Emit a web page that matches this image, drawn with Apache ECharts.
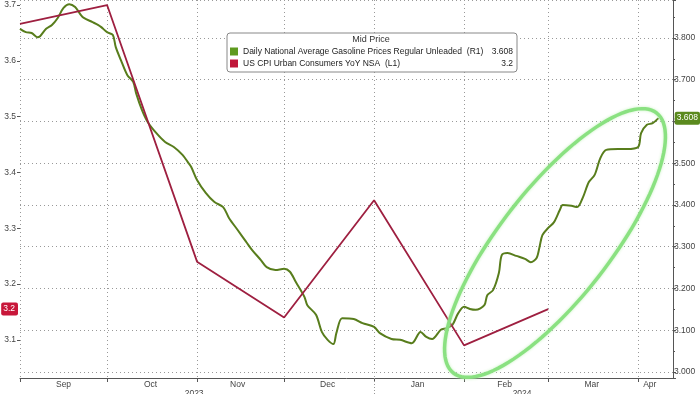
<!DOCTYPE html>
<html><head><meta charset="utf-8">
<script src="https://cdn.jsdelivr.net/npm/echarts@6/dist/echarts.min.js"></script>
<style>html,body{margin:0;padding:0;background:#fff}#c{width:700px;height:394px}</style>
</head><body><div id="c"></div>
<script>
// ---- axis categories / tick labels ----
const START_DATE = '2023-09-01';
const DAY_COUNT = 226;
const MONTH_LABEL_DATES = ['2023-09-16','2023-10-16','2023-11-15','2023-12-16','2024-01-16','2024-02-15','2024-03-16','2024-04-05'];
const MONTH_NAMES = ['Sep','Oct','Nov','Dec','Jan','Feb','Mar','Apr'];
const YEAR_LABEL_DATES = ['2023-10-31','2024-02-21'];
const YEAR_NAMES = ['2023','2024'];
const YEAR_SEPARATOR_DATES = ['2024-01-01'];

// ---- series ----
const GAS_NAME = 'Daily National Average Gasoline Prices Regular Unleaded';
const GAS_TAG = '(R1)';
const GAS_DATES = [
'2023-09-01','2023-09-03','2023-09-05','2023-09-07','2023-09-08','2023-09-10','2023-09-12','2023-09-14','2023-09-16','2023-09-18','2023-09-20','2023-09-22','2023-09-23','2023-09-26','2023-09-28','2023-09-29',
'2023-10-01','2023-10-03','2023-10-04','2023-10-06','2023-10-08','2023-10-10','2023-10-11','2023-10-13','2023-10-15','2023-10-18','2023-10-21','2023-10-24','2023-10-27','2023-10-29','2023-10-30',
'2023-11-01','2023-11-04','2023-11-07','2023-11-10','2023-11-12','2023-11-15','2023-11-18','2023-11-20','2023-11-23','2023-11-25','2023-11-28',
'2023-12-01','2023-12-03','2023-12-05','2023-12-08','2023-12-09','2023-12-12','2023-12-14','2023-12-16','2023-12-18','2023-12-19','2023-12-21','2023-12-25','2023-12-28',
'2024-01-01','2024-01-03','2024-01-07','2024-01-10','2024-01-14','2024-01-17','2024-01-19','2024-01-21','2024-01-24','2024-01-26','2024-01-28','2024-01-30',
'2024-02-01','2024-02-03','2024-02-05','2024-02-08','2024-02-09','2024-02-11','2024-02-13','2024-02-14','2024-02-16','2024-02-19','2024-02-22','2024-02-24','2024-02-26','2024-02-27','2024-02-28',
'2024-03-01','2024-03-03','2024-03-05','2024-03-06','2024-03-09','2024-03-11','2024-03-13','2024-03-15','2024-03-17','2024-03-19','2024-03-21','2024-03-25','2024-03-28',
'2024-04-01','2024-04-02','2024-04-04','2024-04-06','2024-04-08'
];
const GAS_VALUES = [
3.822,3.814,3.812,3.802,3.805,3.822,3.831,3.848,3.872,3.881,3.874,3.855,3.848,3.838,3.831,3.826,
3.814,3.807,3.778,3.743,3.711,3.695,3.668,3.628,3.599,3.572,3.551,3.539,3.520,3.501,3.491,
3.460,3.429,3.407,3.395,3.369,3.340,3.311,3.292,3.268,3.251,3.244,
3.247,3.240,3.216,3.180,3.160,3.137,3.096,3.077,3.067,3.093,3.129,3.127,3.117,
3.108,3.093,3.079,3.077,3.069,3.096,3.084,3.079,3.101,3.105,3.113,3.141,
3.156,3.151,3.149,3.160,3.184,3.196,3.237,3.280,3.285,3.278,3.271,3.263,3.273,3.299,3.328,
3.345,3.359,3.388,3.400,3.398,3.395,3.419,3.455,3.472,3.513,3.532,3.534,3.534,
3.539,3.572,3.592,3.596,3.608
];
const CPI_NAME = 'US CPI Urban Consumers YoY NSA';
const CPI_TAG = '(L1)';
const CPI_DATES = ['2023-09-01','2023-10-01','2023-11-01','2023-12-01','2024-01-01','2024-02-01','2024-03-01'];
const CPI_VALUES = [3.666,3.70,3.24,3.14,3.35,3.09,3.155];

const LEFT_RANGE = [3.0315, 3.709];
const RIGHT_RANGE = [2.9856, 3.891];

// build categories
const CATS = [];
{
  const d0 = new Date(START_DATE + 'T00:00:00Z');
  for (let i = 0; i < DAY_COUNT; i++) {
    const d = new Date(d0.getTime() + i * 86400000);
    CATS.push(d.toISOString().slice(0, 10));
  }
}
const FONT = 'Liberation Sans';
const GREEN = '#587d1c';
const RED = '#9e1f40';
const gasLast = GAS_VALUES[GAS_VALUES.length - 1];
const cpiLast = CPI_VALUES[CPI_VALUES.length - 1];
const legendVals = {};
legendVals[GAS_NAME] = [GAS_TAG, gasLast.toFixed(3)];
legendVals[CPI_NAME] = [CPI_TAG, cpiLast.toFixed(1)];

const isMonthStart = (i, v) => v.slice(8) === '01';

// annotation ellipse (hand-drawn highlight)
const ell = {cx: 555, cy: 243, a: 165, b: 55, ang: 52 * Math.PI / 180};
const ellPts = [];
for (let k = 0; k < 120; k++) {
  const t = k / 120 * Math.PI * 2;
  const ux = Math.cos(ell.ang), uy = -Math.sin(ell.ang);
  const vx = Math.sin(ell.ang), vy = Math.cos(ell.ang);
  ellPts.push([ell.cx + ell.a * Math.cos(t) * ux + ell.b * Math.sin(t) * vx,
               ell.cy + ell.a * Math.cos(t) * uy + ell.b * Math.sin(t) * vy]);
}

const chart = echarts.init(document.getElementById('c'), null, {renderer: 'canvas'});
chart.setOption({
  animation: false,
  backgroundColor: '#fff',
  textStyle: {fontFamily: FONT},
  grid: {left: 20, right: 27, top: 0, bottom: 16, containLabel: false, outerBoundsMode: 'none'},
  title: {
    text: 'Mid Price', left: 371, top: 35, textAlign: 'center', z: 10, padding: 0,
    textStyle: {fontFamily: FONT, fontSize: 9, fontWeight: 'normal', color: '#333'}
  },
  legend: {
    orient: 'vertical', left: 227, top: 33, z: 8,
    itemWidth: 8, itemHeight: 8, itemGap: 3, icon: 'rect',
    padding: [14, 4, 4, 3],
    backgroundColor: '#fff', borderColor: '#888', borderWidth: 1, borderRadius: 3,
    data: [GAS_NAME, CPI_NAME],
    formatter: name => `{n|${name}  ${legendVals[name][0]}}{v|${legendVals[name][1]}}`,
    textStyle: {
      fontFamily: FONT, fontSize: 8.5, color: '#222', lineHeight: 9,
      rich: {
        n: {fontFamily: FONT, fontSize: 8.5, color: '#222', width: 248, lineHeight: 9},
        v: {fontFamily: FONT, fontSize: 8.5, color: '#222', width: 22, align: 'right', lineHeight: 9}
      }
    }
  },
  xAxis: [{
    type: 'category', data: CATS, boundaryGap: false, position: 'bottom',
    axisLine: {lineStyle: {color: '#555', width: 1}},
    axisTick: {interval: isMonthStart, length: 4, lineStyle: {color: '#555'}},
    axisLabel: {
      interval: (i, v) => MONTH_LABEL_DATES.includes(v),
      formatter: v => MONTH_NAMES[MONTH_LABEL_DATES.indexOf(v)],
      fontFamily: FONT, fontSize: 8.5, color: '#444', margin: 2
    },
    splitLine: {show: true, interval: isMonthStart, lineStyle: {type: [1, 3], color: '#999'}}
  }, {
    type: 'category', data: CATS, boundaryGap: false, position: 'bottom', gridIndex: 0,
    axisLine: {show: false},
    axisTick: {show: true, interval: (i, v) => YEAR_SEPARATOR_DATES.includes(v), length: 16, lineStyle: {color: '#999', type: [1, 2]}},
    axisLabel: {
      interval: (i, v) => YEAR_LABEL_DATES.includes(v),
      formatter: v => YEAR_NAMES[YEAR_LABEL_DATES.indexOf(v)],
      fontFamily: FONT, fontSize: 8.5, color: '#444', margin: 11
    },
    splitLine: {show: false}
  }],
  yAxis: [{
    type: 'value', position: 'left', min: LEFT_RANGE[0], max: LEFT_RANGE[1], splitNumber: 7,
    axisLine: {show: false},
    axisTick: {show: true, length: 3, lineStyle: {color: '#555'}},
    axisLabel: {formatter: v => v.toFixed(1), fontFamily: FONT, fontSize: 8.5, color: '#444', margin: 4,
      showMinLabel: false, showMaxLabel: false},
    splitLine: {show: false},
    axisPointer: {
      show: true, status: 'show', value: cpiLast, snap: false, triggerTooltip: false,
      lineStyle: {opacity: 0},
      label: {show: true, formatter: () => cpiLast.toFixed(1), backgroundColor: '#c8173a', color: '#fff',
        fontFamily: FONT, fontSize: 8.5, padding: [2, 3, 2, 2], borderRadius: 2, margin: 2}
    }
  }, {
    type: 'value', position: 'right', min: RIGHT_RANGE[0], max: RIGHT_RANGE[1], splitNumber: 9,
    axisLine: {show: true, lineStyle: {color: '#555'}},
    axisTick: {show: true, length: 3, lineStyle: {color: '#555'}},
    minorTick: {show: true, splitNumber: 2, length: 2, lineStyle: {color: '#555'}},
    axisLabel: {formatter: v => v.toFixed(3), fontFamily: FONT, fontSize: 8.5, color: '#444', margin: 1,
      showMinLabel: false, showMaxLabel: false},
    splitLine: {show: true, lineStyle: {type: [1, 3], color: '#999'}},
    axisPointer: {
      show: true, status: 'show', value: gasLast, snap: false, triggerTooltip: false,
      lineStyle: {opacity: 0},
      label: {show: true, formatter: () => gasLast.toFixed(3), backgroundColor: '#5b8a1e', color: '#fff',
        fontFamily: FONT, fontSize: 8.5, padding: [2, 2, 2, 2], borderRadius: 2, margin: 2}
    }
  }],
  series: [{
    name: GAS_NAME, type: 'line', xAxisIndex: 0, yAxisIndex: 1,
    data: GAS_DATES.map((d, i) => [d, GAS_VALUES[i]]),
    showSymbol: false, smooth: 0.3, z: 3,
    lineStyle: {color: GREEN, width: 2}, itemStyle: {color: '#5e9a1f'}
  }, {
    name: CPI_NAME, type: 'line', xAxisIndex: 0, yAxisIndex: 0,
    data: CPI_DATES.map((d, i) => [d, CPI_VALUES[i]]),
    showSymbol: false, z: 4,
    lineStyle: {color: RED, width: 1.8}, itemStyle: {color: '#c0173a'}
  }],
  graphic: [{
    type: 'polygon', z: 100, silent: true,
    shape: {points: ellPts},
    style: {fill: 'none', stroke: '#86df7c', lineWidth: 3.5, opacity: 0.95, shadowBlur: 3, shadowColor: '#c4f2bd'}
  }]
});
</script></body></html>
